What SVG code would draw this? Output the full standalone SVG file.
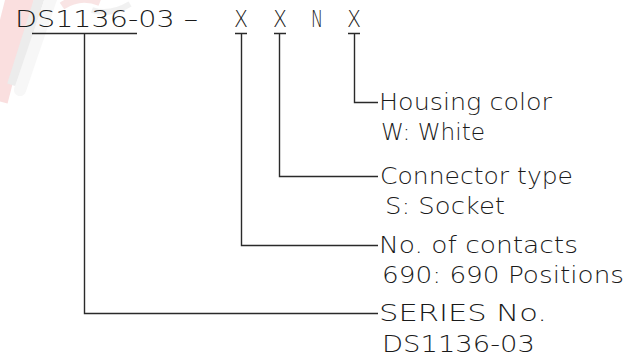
<svg xmlns="http://www.w3.org/2000/svg" width="640" height="359" viewBox="0 0 640 359">
<style>
.t{font-family:"DejaVu Sans","Liberation Sans",sans-serif;font-size:23px;font-weight:200;fill:#1a1a1a}
.c{fill:none;stroke:#2a2a2a;stroke-width:1.4}
</style>
<rect width="640" height="359" fill="#fff"/>
<g id="watermark" opacity="0.7">
<path d="M22,-10 L-6,100" stroke="#f8d2d2" stroke-width="28" fill="none"/>
<path d="M42,-10 L12,85" stroke="#e4e4e4" stroke-width="10" fill="none"/>
<path d="M54,-10 L20,90" stroke="#f4f4f4" stroke-width="12" fill="none" stroke-linecap="round"/>
<path d="M62,6 Q80,-6 100,2" stroke="#f7dada" stroke-width="8" fill="none"/>
<path d="M92,10 Q110,16 130,4" stroke="#ececec" stroke-width="6" fill="none"/>
</g>
<g id="code">
<text class="t" x="15" y="27" textLength="183" lengthAdjust="spacingAndGlyphs">DS1136-03 –</text>
<text class="t" x="234" y="27" textLength="14" lengthAdjust="spacingAndGlyphs">X</text>
<text class="t" x="273" y="27" textLength="14" lengthAdjust="spacingAndGlyphs">X</text>
<text class="t" x="311" y="27" textLength="12" lengthAdjust="spacingAndGlyphs">N</text>
<text class="t" x="347" y="27" textLength="14" lengthAdjust="spacingAndGlyphs">X</text>
</g>
<g id="connectors">
<path class="c" d="M32,33.5 H137 M84.5,33.5 V313.5 H378"/>
<path class="c" d="M235,33.5 H247 M241.5,33.5 V245.5 H378"/>
<path class="c" d="M274,33.5 H286 M279.5,33.5 V176.5 H378"/>
<path class="c" d="M348,33.5 H360 M354.5,33.5 V102.5 H378"/>
</g>
<g id="housing">
<text class="t" x="379" y="110" textLength="173" lengthAdjust="spacingAndGlyphs">Housing color</text>
<text class="t" x="381" y="140" textLength="104" lengthAdjust="spacingAndGlyphs">W: White</text>
</g>
<g id="connector-type">
<text class="t" x="380" y="184" textLength="193" lengthAdjust="spacingAndGlyphs">Connector type</text>
<text class="t" x="385" y="214" textLength="120" lengthAdjust="spacingAndGlyphs">S: Socket</text>
</g>
<g id="contacts">
<text class="t" x="379" y="253" textLength="199" lengthAdjust="spacingAndGlyphs">No. of contacts</text>
<text class="t" x="382" y="283" textLength="242" lengthAdjust="spacingAndGlyphs">690: 690 Positions</text>
</g>
<g id="series">
<text class="t" x="379" y="321" textLength="168" lengthAdjust="spacingAndGlyphs">SERIES No.</text>
<text class="t" x="382" y="352" textLength="153" lengthAdjust="spacingAndGlyphs">DS1136-03</text>
</g>
</svg>
